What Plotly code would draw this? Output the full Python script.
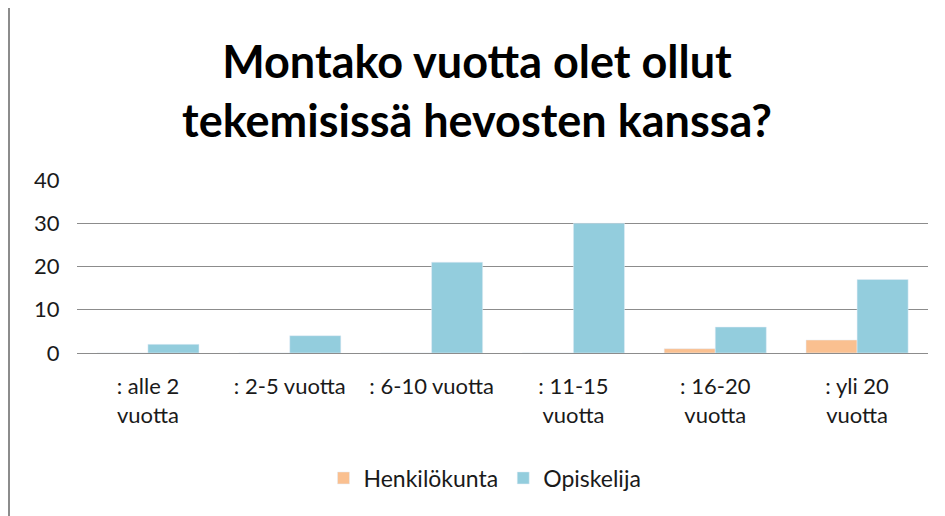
import plotly.graph_objects as go

categories = [": alle 2<br>vuotta", ": 2-5 vuotta", ": 6-10 vuotta", ": 11-15<br>vuotta", ": 16-20<br>vuotta", ": yli 20<br>vuotta"]
henkilokunta = [0, 0, 0, 0, 1, 3]
opiskelija = [2, 4, 21, 30, 6, 17]

# page body has an 8px margin; figure is sized to fill the rest of the window
W, H = 937, 508
L, R, T, B = 69, 17, 172, 163

fig = go.Figure()
fig.add_trace(go.Bar(x=categories, y=henkilokunta, name="Henkilökunta", marker_color="#FAC090"))
fig.add_trace(go.Bar(x=categories, y=opiskelija, name="Opiskelija", marker_color="#93CDDD"))

font_family = "Lato, 'Open Sans', sans-serif"
pw = W - L - R
ph = H - T - B
fig.update_layout(
    width=W, height=H,
    margin=dict(l=L, r=R, t=T, b=B, autoexpand=False),
    paper_bgcolor="white", plot_bgcolor="white",
    barmode="group", bargap=0.28, bargroupgap=0,
    font=dict(family=font_family, size=22, color="#1a1a1a"),
    title=dict(text="<b>Montako vuotta olet ollut<br>tekemisissä hevosten kanssa?</b>",
               x=(477 - 8) / W, xanchor="center", y=1 - 70 / H, yanchor="middle",
               font=dict(size=45, color="black", family=font_family)),
    legend=dict(orientation="h", x=(485 - 8 - L) / pw, xanchor="center",
                y=-(478 - 8 - T - ph) / ph, yanchor="middle",
                font=dict(size=23), itemwidth=30, traceorder="normal"),
    xaxis=dict(showgrid=False, showline=False, ticks="", tickfont=dict(size=22),
               ticklabelstandoff=18),
    yaxis=dict(range=[0, 40], dtick=10, showgrid=True, gridcolor="#8c8c8c", gridwidth=1.3,
               zeroline=True, zerolinecolor="#8c8c8c", zerolinewidth=1.3,
               showline=False, ticks="outside", ticklen=12, tickcolor="white", tickfont=dict(size=22)),
    shapes=[dict(type="line", xref="paper", yref="paper",
                 x0=(1 - L) / pw, x1=(1 - L) / pw,
                 y0=-B / ph - 0.05, y1=(H - B) / ph + 0.05,
                 line=dict(color="#8c8c8c", width=2))],
)
fig.write_html("out.html")
